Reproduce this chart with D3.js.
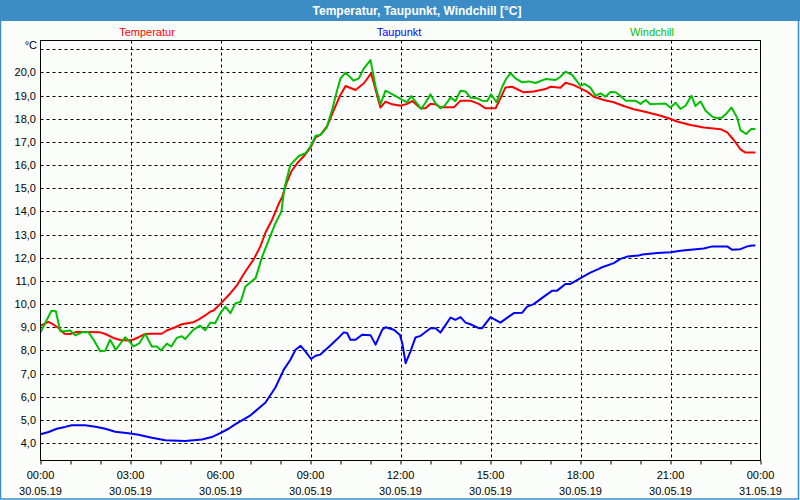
<!DOCTYPE html>
<html><head><meta charset="utf-8">
<script src="https://cdn.jsdelivr.net/npm/d3@7"></script>
<style>
html,body{margin:0;padding:0;background:#fbfdfb;}
svg{display:block;font-family:"Liberation Sans",Arial,sans-serif;}
</style></head>
<body><svg id="c" width="800" height="500"></svg>
<script>
const title = "Temperatur, Taupunkt, Windchill [°C]";
const seriesNames = ["Temperatur", "Taupunkt", "Windchill"];
const seriesColors = ["#ff0000", "#0000ff", "#00c000"];
const yTicks = [4,5,6,7,8,9,10,11,12,13,14,15,16,17,18,19,20];
const timeLabels = ["00:00","03:00","06:00","09:00","12:00","15:00","18:00","21:00","00:00"];
const dateLabels = ["30.05.19","30.05.19","30.05.19","30.05.19","30.05.19","30.05.19","30.05.19","30.05.19","31.05.19"];
const tickHours = [0,3,6,9,12,15,18,21,24];
const unitLabel = "°C";

// [hour of day, °C]
const temperatur = [[0,9.07],[0.27,9.23],[0.43,9.12],[0.6,8.97],[0.8,8.72],[0.99,8.71],[1.21,8.8],[1.6,8.8],[1.99,8.78],[2.16,8.71],[2.43,8.54],[2.66,8.45],[2.93,8.43],[3.08,8.46],[3.27,8.57],[3.49,8.71],[3.71,8.72],[4.04,8.72],[4.21,8.86],[4.49,9.0],[4.71,9.13],[5.1,9.22],[5.27,9.33],[5.49,9.51],[5.67,9.68],[5.77,9.72],[6.02,10.04],[6.33,10.47],[6.56,10.83],[6.78,11.31],[7.11,11.94],[7.33,12.49],[7.5,13.09],[7.72,13.64],[7.94,14.32],[8.06,14.64],[8.2,15.22],[8.36,15.72],[8.56,16.08],[8.78,16.39],[9.0,16.75],[9.17,17.2],[9.33,17.3],[9.56,17.69],[9.78,18.38],[9.98,18.98],[10.17,19.41],[10.5,19.24],[10.78,19.53],[11.02,19.96],[11.33,18.48],[11.5,18.74],[11.72,18.62],[12.0,18.56],[12.22,18.64],[12.39,18.76],[12.67,18.45],[12.83,18.45],[13.0,18.64],[13.17,18.62],[13.33,18.49],[13.78,18.49],[14.0,18.78],[14.33,18.78],[14.61,18.64],[14.83,18.45],[15.17,18.45],[15.33,18.88],[15.5,19.35],[15.72,19.38],[16.11,19.14],[16.44,19.17],[16.83,19.28],[17.0,19.38],[17.33,19.34],[17.5,19.55],[17.78,19.45],[18.0,19.31],[18.22,19.17],[18.44,18.95],[18.78,18.81],[19.11,18.71],[19.44,18.55],[19.78,18.41],[20.22,18.28],[20.67,18.13],[20.94,18.02],[21.22,17.88],[21.67,17.73],[22.11,17.62],[22.67,17.55],[22.89,17.41],[23.11,17.08],[23.33,16.68],[23.5,16.54],[23.83,16.54]];

const taupunkt = [[0,4.38],[0.27,4.48],[0.54,4.62],[0.82,4.7],[1.04,4.77],[1.49,4.77],[1.88,4.7],[2.16,4.62],[2.49,4.49],[2.93,4.43],[3.27,4.36],[3.71,4.23],[4.16,4.12],[4.82,4.09],[5.38,4.16],[5.71,4.26],[5.99,4.43],[6.27,4.62],[6.5,4.82],[7.0,5.2],[7.5,5.75],[7.83,6.4],[8.11,7.17],[8.33,7.6],[8.5,8.03],[8.67,8.2],[8.83,7.96],[9.02,7.63],[9.17,7.77],[9.33,7.82],[9.67,8.22],[9.89,8.49],[10.11,8.78],[10.22,8.75],[10.33,8.46],[10.5,8.46],[10.72,8.68],[11.0,8.66],[11.17,8.25],[11.39,8.89],[11.5,9.0],[11.78,8.89],[11.98,8.67],[12.06,8.31],[12.17,7.45],[12.33,7.95],[12.5,8.56],[12.67,8.63],[13.0,8.96],[13.17,8.96],[13.33,8.77],[13.67,9.42],[13.83,9.32],[14.0,9.44],[14.17,9.2],[14.33,9.13],[14.61,8.96],[14.72,8.96],[15.0,9.44],[15.33,9.2],[15.61,9.46],[15.78,9.61],[16.06,9.63],[16.22,9.89],[16.44,10.0],[16.78,10.32],[17.06,10.58],[17.22,10.58],[17.5,10.87],[17.67,10.87],[18.0,11.12],[18.33,11.36],[18.61,11.52],[18.72,11.59],[19.11,11.77],[19.33,11.95],[19.56,12.05],[19.94,12.1],[20.06,12.14],[20.56,12.2],[21.0,12.24],[21.33,12.3],[21.67,12.34],[22.11,12.4],[22.39,12.49],[22.89,12.49],[23.06,12.34],[23.33,12.37],[23.56,12.49],[23.72,12.53],[23.83,12.53]];

const windchill = [[0,8.78],[0.16,9.19],[0.36,9.7],[0.51,9.7],[0.66,8.83],[0.8,8.83],[0.99,8.86],[1.16,8.65],[1.38,8.78],[1.6,8.78],[1.77,8.46],[1.99,7.96],[2.16,7.99],[2.32,8.46],[2.51,8.03],[2.82,8.57],[2.99,8.35],[3.1,8.17],[3.3,8.32],[3.49,8.72],[3.71,8.17],[3.88,8.17],[4.02,8.0],[4.21,8.29],[4.36,8.17],[4.54,8.54],[4.71,8.61],[4.82,8.49],[5.1,8.9],[5.32,9.07],[5.49,8.87],[5.66,9.2],[5.82,9.17],[6.0,9.62],[6.16,9.89],[6.33,9.61],[6.5,10.04],[6.67,10.09],[6.83,10.76],[7.17,11.12],[7.39,12.05],[7.61,12.77],[7.83,13.49],[8.03,13.99],[8.13,15.0],[8.33,16.01],[8.61,16.39],[8.83,16.51],[9.0,16.8],[9.17,17.26],[9.33,17.3],[9.53,17.59],[9.72,18.38],[9.89,19.24],[10.0,19.74],[10.17,19.99],[10.44,19.64],[10.61,19.74],[10.78,20.17],[11.0,20.53],[11.17,19.38],[11.33,18.62],[11.5,19.21],[11.78,19.02],[12.06,18.81],[12.22,18.71],[12.36,18.98],[12.5,18.74],[12.69,18.42],[12.83,18.69],[13.0,19.05],[13.17,18.66],[13.33,18.45],[13.47,18.56],[13.67,18.91],[13.83,18.76],[14.0,19.21],[14.17,19.17],[14.33,18.91],[14.56,18.88],[14.72,18.78],[14.89,18.76],[15.02,19.05],[15.2,18.71],[15.39,19.38],[15.53,19.74],[15.67,19.96],[15.83,19.74],[16.06,19.57],[16.28,19.61],[16.5,19.54],[16.83,19.71],[17.17,19.67],[17.33,19.81],[17.5,20.03],[17.72,19.89],[18.0,19.42],[18.13,19.5],[18.33,19.34],[18.5,18.99],[18.67,19.09],[18.83,18.95],[19.0,19.15],[19.17,19.14],[19.33,18.99],[19.5,18.78],[19.83,18.78],[20.0,18.64],[20.17,18.81],[20.33,18.62],[20.56,18.64],[20.83,18.66],[21.0,18.48],[21.17,18.69],[21.33,18.42],[21.5,18.56],[21.7,18.99],[21.83,18.55],[22.0,18.74],[22.17,18.34],[22.39,18.09],[22.56,18.02],[22.72,18.05],[22.89,18.26],[23.03,18.48],[23.22,18.05],[23.33,17.51],[23.52,17.34],[23.69,17.56],[23.83,17.56]];

const svg = d3.select("#c");
const W = 800, H = 500;
const L = 40.5, R = 760.5, T = 40.5, B = 460.5;
const accent = "#3c8dc5";

const x = d3.scaleLinear().domain([0, 24]).range([L, R]);
const y = d3.scaleLinear().domain([3.25, 21.375]).range([B, T]);

// title bar & frame
svg.append("rect").attr("x",0).attr("y",0).attr("width",W).attr("height",H).attr("fill","#fbfdfb");
svg.append("rect").attr("x",0).attr("y",0).attr("width",W).attr("height",21).attr("fill",accent);
svg.append("rect").attr("x",0.5).attr("y",0.5).attr("width",798).attr("height",498.5)
  .attr("fill","none").attr("stroke",accent).attr("stroke-width",1.5);
svg.append("text").attr("x",417).attr("y",15).attr("text-anchor","middle")
  .attr("fill","#fff").attr("font-weight","bold").attr("font-size",12).text(title);

// legend
const legendX = [147, 399, 652];
seriesNames.forEach((n,i)=>{
  svg.append("text").attr("x",legendX[i]).attr("y",36).attr("text-anchor","middle")
    .attr("font-size",11).attr("fill",seriesColors[i]).text(n);
});

// horizontal grid
const gridVals = yTicks.concat([21]);
svg.append("g").selectAll("line").data(gridVals).join("line")
  .attr("x1",L).attr("x2",R).attr("y1",d=>Math.round(y(d))+0.5).attr("y2",d=>Math.round(y(d))+0.5)
  .attr("stroke","#000").attr("stroke-width",1).attr("stroke-dasharray","3,3");
// vertical grid
svg.append("g").selectAll("line").data(tickHours.slice(1,-1)).join("line")
  .attr("x1",d=>Math.round(x(d))+0.5).attr("x2",d=>Math.round(x(d))+0.5).attr("y1",T).attr("y2",B)
  .attr("stroke","#000").attr("stroke-width",1).attr("stroke-dasharray","3,3");

// y labels
svg.append("g").selectAll("text").data(yTicks).join("text")
  .attr("x",36).attr("y",d=>y(d)+4).attr("text-anchor","end").attr("font-size",11).attr("fill","#000")
  .text(d=>d.toFixed(1).replace(".",","));
svg.append("text").attr("x",37).attr("y",49).attr("text-anchor","end").attr("font-size",11).text(unitLabel);

// x axis minor ticks
const xAxis = d3.axisBottom(x).tickValues(d3.range(0,25,1)).tickSize(4).tickFormat("");
const gx = svg.append("g").attr("transform",`translate(0,${B})`).call(xAxis);
gx.select(".domain").remove();
gx.selectAll("line").attr("stroke","#000");

// x labels
const xl = svg.append("g");
tickHours.forEach((h,i)=>{
  xl.append("text").attr("x",x(h)).attr("y",479).attr("text-anchor","middle").attr("font-size",11).text(timeLabels[i]);
  xl.append("text").attr("x",x(h)).attr("y",495).attr("text-anchor","middle").attr("font-size",11).text(dateLabels[i]);
});

// lines
svg.append("clipPath").attr("id","clip").append("rect").attr("x",L).attr("y",T).attr("width",R-L).attr("height",B-T);
const line = d3.line().x(d=>x(d[0])).y(d=>y(d[1]));
const gl = svg.append("g").attr("clip-path","url(#clip)");
[temperatur, taupunkt, windchill].forEach((s,i)=>{
  gl.append("path").datum(s).attr("d",line).attr("fill","none")
    .attr("stroke",seriesColors[i]).attr("stroke-width",2).attr("stroke-linejoin","round");
});

// plot frame
svg.append("rect").attr("x",L).attr("y",T).attr("width",R-L).attr("height",B-T)
  .attr("fill","none").attr("stroke","#000").attr("stroke-width",1);
</script></body></html>
